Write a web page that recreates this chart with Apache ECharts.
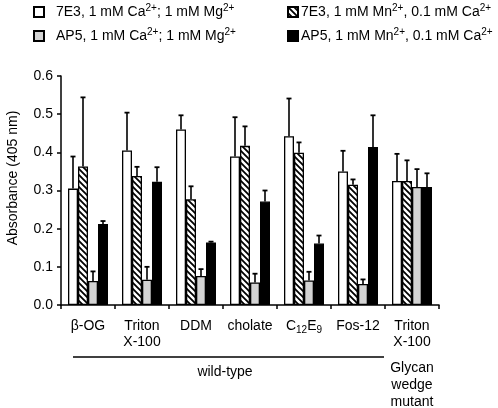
<!DOCTYPE html>
<html><head><meta charset="utf-8">
<script src="https://cdn.jsdelivr.net/npm/echarts@6/dist/echarts.min.js"></script>
<style>html,body{margin:0;padding:0;background:#fff}#c{width:498px;height:408px}</style>
</head><body><div id="c"></div>
<script>
var categories = ['β-OG', 'Triton\nX-100', 'DDM', 'cholate', 'C12E9', 'Fos-12', 'Triton\nX-100'];
var seriesNames = ['7E3, 1 mM Ca2+; 1 mM Mg2+', '7E3, 1 mM Mn2+, 0.1 mM Ca2+', 'AP5, 1 mM Ca2+; 1 mM Mg2+', 'AP5, 1 mM Mn2+, 0.1 mM Ca2+'];
var white7E3 = [0.305, 0.405, 0.460, 0.389, 0.442, 0.350, 0.325];
var white7E3Err = [0.389, 0.504, 0.497, 0.492, 0.541, 0.404, 0.396];
var hatch7E3 = [0.363, 0.338, 0.277, 0.417, 0.399, 0.315, 0.325];
var hatch7E3Err = [0.544, 0.362, 0.311, 0.468, 0.426, 0.329, 0.379];
var grayAP5 = [0.063, 0.066, 0.076, 0.059, 0.064, 0.055, 0.309];
var grayAP5Err = [0.088, 0.100, 0.094, 0.082, 0.087, 0.067, 0.356];
var blackAP5 = [0.212, 0.323, 0.164, 0.271, 0.161, 0.414, 0.309];
var blackAP5Err = [0.220, 0.361, 0.166, 0.300, 0.182, 0.497, 0.345];
var yTicks = [0.0, 0.1, 0.2, 0.3, 0.4, 0.5, 0.6];

var FONT = 'Liberation Sans, Arial, sans-serif';
var FS = 14;
var hatch = document.createElement('canvas');
hatch.width = 6; hatch.height = 6;
var hc = hatch.getContext('2d');
hc.fillStyle = '#fff'; hc.fillRect(0, 0, 6, 6);
hc.strokeStyle = '#000'; hc.lineWidth = 1.8;
hc.beginPath();
hc.moveTo(-1, -1); hc.lineTo(7, 7);
hc.moveTo(-4, 2); hc.lineTo(4, 10);
hc.moveTo(2, -4); hc.lineTo(10, 4);
hc.stroke();

var fills = ['#ffffff', {image: hatch, repeat: 'repeat'}, '#d3d3d3', '#000000'];
var means = [white7E3, hatch7E3, grayAP5, blackAP5];
var errs = [white7E3Err, hatch7E3Err, grayAP5Err, blackAP5Err];
var order = [0, 1, 2, 3];
var BW = 10;
var offsets = [-15, -5, 5, 15];

function fmtLegend(name) {
  return '{n|' + name.replace(/2\+/g, '}{sup|2+}{n|') + '}';
}
var richLegend = {
  n: {fontSize: FS, fontFamily: FONT, color: '#000', lineHeight: 18},
  sup: {fontSize: 10, fontFamily: FONT, color: '#000', lineHeight: 18, padding: [0, 0, 8, 0]}
};

var series = [];
order.forEach(function (k) {
  series.push({
    type: 'bar', name: seriesNames[k], data: means[k], barWidth: BW, barGap: '0%',
    itemStyle: {color: fills[k], borderColor: '#000', borderWidth: 1.3},
    emphasis: {disabled: true}, z: 2
  });
});
order.forEach(function (k) {
  var d = means[k].map(function (v, i) { return [i, v, errs[k][i]]; });
  series.push({
    type: 'custom', name: 'err' + k, data: d, z: 5, silent: true,
    renderItem: function (params, api) {
      var i = api.value(0);
      var p1 = api.coord([i, api.value(1)]);
      var p2 = api.coord([i, api.value(2)]);
      var x = p1[0] + offsets[k];
      return {
        type: 'group', children: [
          {type: 'line', shape: {x1: x, y1: p1[1], x2: x, y2: p2[1]}, style: {stroke: '#000', lineWidth: 1.6}},
          {type: 'line', shape: {x1: x - 2.5, y1: p2[1], x2: x + 2.5, y2: p2[1]}, style: {stroke: '#000', lineWidth: 1.8}}
        ]
      };
    }
  });
});

var chart = echarts.init(document.getElementById('c'), null, {renderer: 'canvas'});
chart.setOption({
  animation: false,
  backgroundColor: '#fff',
  grid: {left: 61, right: 59, top: 76, bottom: 103, containLabel: false},
  legend: [
    {data: [seriesNames[0], seriesNames[2]], orient: 'vertical', left: 33, top: 3, padding: 0, itemWidth: 10, itemHeight: 10, itemGap: 6,
     icon: 'rect', formatter: fmtLegend, textStyle: {rich: richLegend, padding: [0, 0, 0, 7]}, selectedMode: false},
    {data: [seriesNames[1], seriesNames[3]], orient: 'vertical', left: 287, top: 3, padding: 0, itemWidth: 10, itemHeight: 10, itemGap: 6,
     icon: 'rect', formatter: fmtLegend, textStyle: {rich: richLegend, padding: [0, 0, 0, -2]}, selectedMode: false}
  ],
  xAxis: {
    type: 'category', data: categories,
    axisLine: {lineStyle: {color: '#000', width: 1.5}},
    axisTick: {show: true, interval: 0, length: 4, lineStyle: {color: '#000', width: 1.5}},
    axisLabel: {
      interval: 0, margin: 13, color: '#000', fontFamily: FONT, fontSize: FS, lineHeight: 16,
      formatter: function (v) { return v === 'C12E9' ? 'C{sub|12}E{sub|9}' : v; },
      rich: {sub: {fontSize: 10, fontFamily: FONT, color: '#000', padding: [8, 0, 0, 0]}}
    }
  },
  yAxis: {
    type: 'value', min: 0, max: 0.6, interval: 0.1,
    splitLine: {show: false},
    axisLine: {show: true, lineStyle: {color: '#000', width: 1.5}},
    axisTick: {show: true, length: 4, lineStyle: {color: '#000', width: 1.5}},
    axisLabel: {color: '#000', fontFamily: FONT, fontSize: FS, margin: 8,
      formatter: function (v) { return v.toFixed(1); }}
  },
  graphic: [
    {type: 'text', x: 13, y: 178, rotation: Math.PI / 2,
     style: {text: 'Absorbance (405 nm)', fill: '#000', font: FS + 'px ' + FONT, textAlign: 'center', textVerticalAlign: 'middle'}},
    {type: 'line', shape: {x1: 73, y1: 357, x2: 384, y2: 357}, style: {stroke: '#000', lineWidth: 1.5}},
    {type: 'text', x: 225, y: 372,
     style: {text: 'wild-type', fill: '#000', font: FS + 'px ' + FONT, textAlign: 'center', textVerticalAlign: 'middle'}},
    {type: 'text', x: 412, y: 385,
     style: {text: 'Glycan\nwedge\nmutant', fill: '#000', font: FS + 'px ' + FONT, lineHeight: 17, textAlign: 'center', textVerticalAlign: 'middle'}}
  ],
  series: series
});
</script></body></html>
